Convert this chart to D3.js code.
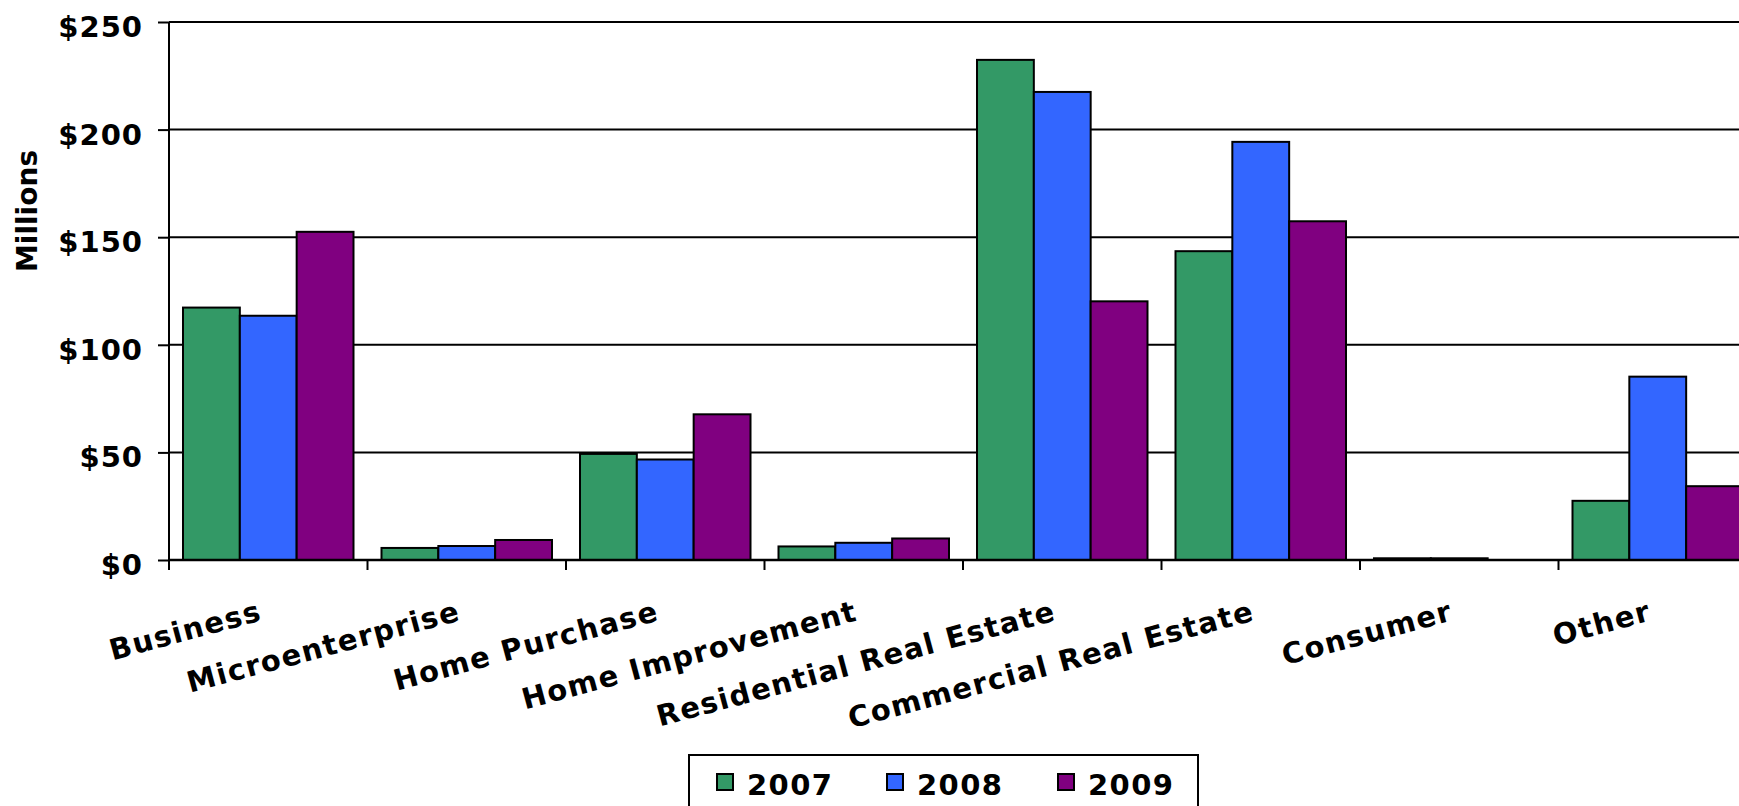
<!DOCTYPE html>
<html>
<head>
<meta charset="utf-8">
<script src="https://cdn.jsdelivr.net/npm/d3@7"></script>
<style>
  html, body { margin: 0; padding: 0; background: #fff; overflow: hidden; }
  svg text { font-family: "DejaVu Sans", Verdana, sans-serif; font-weight: bold; fill: #000; }
</style>
</head>
<body>
<svg id="chart" width="1739" height="806"></svg>
<script>
const categories = ["Business", "Microenterprise", "Home Purchase", "Home Improvement",
  "Residential Real Estate", "Commercial Real Estate", "Consumer", "Other"];
const years = ["2007", "2008", "2009"];
const values2007 = [117.3, 5.6, 49.3, 6.3, 232.4, 143.5, 0.8, 27.5];
const values2008 = [113.5, 6.5, 46.7, 8.0, 217.5, 194.3, 0.8, 85.2];
const values2009 = [152.5, 9.3, 67.7, 10.0, 120.2, 157.4, 0, 34.3];
const yTicks = [0, 50, 100, 150, 200, 250];
const colors = ["#339966", "#3366FF", "#800080"];

(function () {
const series = [values2007, values2008, values2009];
const rows = categories.map((c, i) => ({ cat: c, vals: years.map((yr, j) => ({ year: yr, v: series[j][i], j })) }));

const svg = d3.select("#chart");
const W = 1739;
const mLeft = 169, mTop = 22, mBottom = 560;
const band = 198.5;

const x0 = d3.scaleBand().domain(categories).range([mLeft, mLeft + band * categories.length]).padding(0);
const x1 = d3.scaleBand().domain(years).range([14, band - 14]).padding(0);
const y = d3.scaleLinear().domain([0, 250]).range([mBottom, mTop]);

// gridlines
svg.append("g").selectAll("line").data(yTicks.filter(d => d > 0)).join("line")
  .attr("x1", mLeft).attr("x2", W + 10)
  .attr("y1", d => y(d)).attr("y2", d => y(d))
  .attr("stroke", "#000").attr("stroke-width", 2);

// bars
const groups = svg.append("g").selectAll("g").data(rows).join("g")
  .attr("transform", d => `translate(${x0(d.cat)},0)`);
groups.selectAll("rect").data(d => d.vals.filter(v => v.v > 0)).join("rect")
  .attr("x", d => x1(d.year))
  .attr("width", x1.bandwidth())
  .attr("y", d => y(d.v))
  .attr("height", d => y(0) - y(d.v))
  .attr("fill", d => colors[d.j])
  .attr("stroke", "#000").attr("stroke-width", 2);

// y axis
const yAxis = svg.append("g").attr("transform", `translate(${mLeft},0)`)
  .call(d3.axisLeft(y).tickValues(yTicks).tickSize(11).tickPadding(15).tickFormat(d => "$" + d));
yAxis.select(".domain").attr("stroke", "#000").attr("stroke-width", 2).attr("d", `M0,${mTop}V${mBottom + 10}`);
yAxis.selectAll(".tick line").attr("stroke", "#000").attr("stroke-width", 2);
yAxis.selectAll(".tick text").attr("font-size", 29).attr("dy", "0.5em")
  .style("letter-spacing", "1px").style("font-family", "'DejaVu Sans', sans-serif").style("font-weight", "bold");

// x axis baseline + ticks
const xTickPos = d3.range(categories.length + 1).map(i => mLeft + i * band);
svg.append("line").attr("x1", mLeft).attr("x2", W + 10).attr("y1", mBottom).attr("y2", mBottom)
  .attr("stroke", "#000").attr("stroke-width", 2.5);
svg.append("g").selectAll("line").data(xTickPos).join("line")
  .attr("x1", d => d).attr("x2", d => d).attr("y1", mBottom).attr("y2", mBottom + 10)
  .attr("stroke", "#000").attr("stroke-width", 2);

// x labels
svg.append("g").selectAll("text").data(categories).join("text")
  .attr("transform", d => `translate(${x0(d) + x0.bandwidth() / 2 - 5},620) rotate(-15)`)
  .attr("text-anchor", "end")
  .attr("font-size", 29)
  .style("letter-spacing", "1.4px")
  .text(d => d);

// y title
svg.append("text").attr("transform", "translate(37,211) rotate(-90)")
  .attr("text-anchor", "middle").attr("font-size", 28).text("Millions");

// legend
const lg = svg.append("g");
lg.append("rect").attr("x", 689).attr("y", 755).attr("width", 509).attr("height", 70)
  .attr("fill", "#fff").attr("stroke", "#000").attr("stroke-width", 2);
const legendX = [717, 887, 1058];
const items = lg.selectAll("g.item").data(years).join("g").attr("class", "item")
  .attr("transform", (d, i) => `translate(${legendX[i]},0)`);
items.append("rect").attr("x", 0).attr("y", 774).attr("width", 16).attr("height", 16)
  .attr("fill", (d, i) => colors[i]).attr("stroke", "#000").attr("stroke-width", 2);
items.append("text").attr("x", 30).attr("y", 795).attr("font-size", 29)
  .style("letter-spacing", "1.4px").text(d => d);
})();
</script>
</body>
</html>
